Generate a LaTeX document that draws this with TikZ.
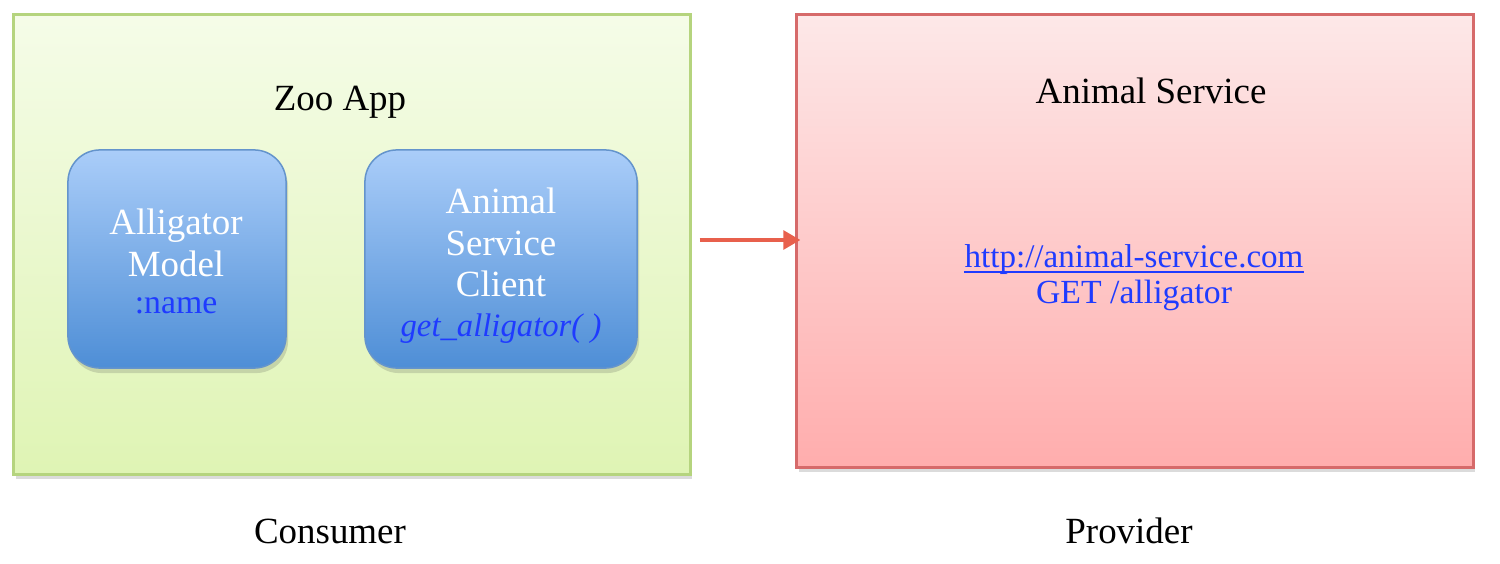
\documentclass[tikz,border=0pt]{standalone}
\usepackage{fontspec}
\setmainfont{Liberation Serif}
\usetikzlibrary{shadows,arrows.meta}
\definecolor{gtop}{HTML}{F5FCE8}
\definecolor{gbot}{HTML}{DFF4B4}
\definecolor{gborder}{HTML}{B5D47E}
\definecolor{rtop}{HTML}{FDE8E8}
\definecolor{rbot}{HTML}{FFADAD}
\definecolor{rborder}{HTML}{D66A6A}
\definecolor{btop}{HTML}{AACDF9}
\definecolor{bbot}{HTML}{4E8ED6}
\definecolor{bborder}{HTML}{6494CC}
\definecolor{bluetxt}{HTML}{1F3BFF}
\definecolor{arrowc}{HTML}{E8604C}
\tikzset{
  bigbox/.style={draw, line width=0.03cm, inner sep=0pt,
    drop shadow={shadow xshift=0.02cm, shadow yshift=-0.05cm, opacity=0.2, fill=black!70}},
  greenbox/.style={bigbox, draw=gborder, top color=gtop, bottom color=gbot,
    minimum width=6.76cm, minimum height=4.59cm},
  redbox/.style={bigbox, draw=rborder, top color=rtop, bottom color=rbot,
    minimum width=6.76cm, minimum height=4.52cm},
  bluebox/.style={draw=bborder, line width=0.015cm, rounded corners=0.32cm, inner sep=0pt,
    top color=btop, bottom color=bbot, minimum height=2.18cm,
    drop shadow={shadow xshift=0.02cm, shadow yshift=-0.05cm, opacity=0.2, fill=black!70}},
  lbl/.style={font=\fontsize{10.5}{12}\selectfont, inner sep=0pt, anchor=base},
  wlbl/.style={lbl, text=white},
  blbl/.style={lbl, text=bluetxt},
  arr/.style={draw=arrowc, line width=0.03cm, -{Triangle[length=0.17cm,width=0.19cm]}},
}
\begin{document}
\begin{tikzpicture}[x=0.01cm, y=-0.01cm]
\useasboundingbox (0,0) rectangle (1500,564);
\fill[white] (0,0) rectangle (1500,564);
\node[greenbox] (zoo) at (352,244.5) {};
\node[redbox] (svc) at (1135,241) {};
\node[bluebox, minimum width=2.18cm] (model) at (177,259) {};
\node[bluebox, minimum width=2.72cm] (client) at (501,259) {};
\node[lbl] (zoot) at (340,111) {Zoo App};
\node[lbl] (svct) at (1151,104) {Animal Service};
\node[wlbl] (m1) at (176,235) {Alligator};
\node[wlbl] (m2) at (176,277) {Model};
\node[blbl, font=\fontsize{9.6}{10}\selectfont] (m3) at (176,314) {:name};
\node[wlbl] (c1) at (501,213) {Animal};
\node[wlbl] (c2) at (501,255) {Service};
\node[wlbl] (c3) at (501,297) {Client};
\node[blbl, font=\fontsize{9.3}{10}\selectfont\itshape] (c4) at (501,336) {get\_alligator( )};
\node[blbl, font=\fontsize{9.4}{10}\selectfont] (url) at (1134,268) {http://animal-service.com};
\draw[bluetxt, line width=0.015cm] ([yshift=-0.04cm]url.base west) -- ([yshift=-0.04cm]url.base east);
\node[blbl, font=\fontsize{9.6}{10}\selectfont] (get) at (1134,304) {GET /alligator};
\node[lbl] (cons) at (330,543) {Consumer};
\node[lbl] (prov) at (1129,543) {Provider};
\draw[arr, shorten <=0.08cm, shorten >=-0.05cm] (zoo.east |- 0,240) -- (svc.west |- 0,240);
\end{tikzpicture}
\end{document}
